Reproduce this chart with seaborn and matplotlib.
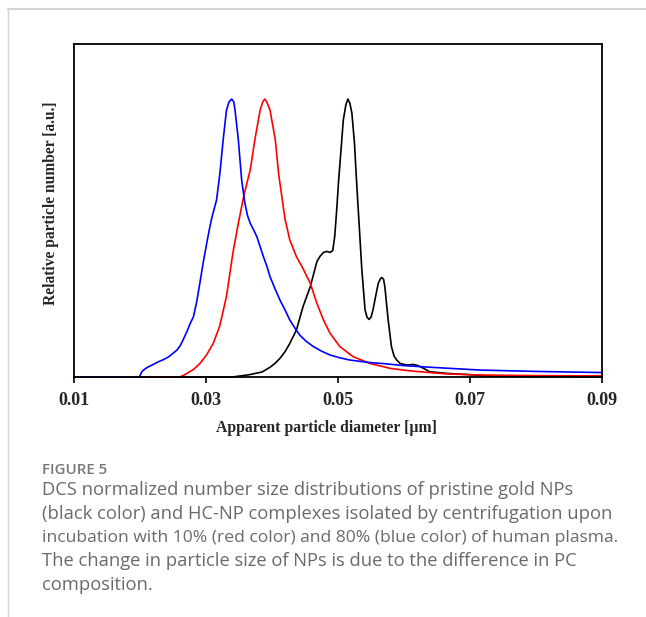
import numpy as np
import pandas as pd
import matplotlib
matplotlib.use("Agg")
import matplotlib.pyplot as plt
import seaborn as sns
from matplotlib.lines import Line2D

# ---------------- data ----------------
blue_x = [0.0100, 0.0199, 0.0203, 0.0208, 0.0213, 0.0220, 0.0228, 0.0235, 0.0243, 0.0250,
          0.0256, 0.0261, 0.0266, 0.0271, 0.0276, 0.0281, 0.0286, 0.0291, 0.0296, 0.0301,
          0.0305, 0.0309, 0.0313, 0.0316, 0.0321, 0.0326, 0.0331, 0.0335, 0.0339, 0.0342,
          0.0344, 0.0349, 0.0354, 0.0359, 0.0363, 0.0367, 0.0372, 0.0377, 0.0382, 0.0387,
          0.0392, 0.0397, 0.0405, 0.0412, 0.0420, 0.0427, 0.0435, 0.0442, 0.0452, 0.0463,
          0.0475, 0.0488, 0.0503, 0.0518, 0.0548, 0.0570, 0.0600, 0.0640, 0.0715, 0.0800,
          0.0900]
blue_y = [0.000, 0.000, 0.020, 0.030, 0.037, 0.045, 0.055, 0.062, 0.072, 0.085,
          0.097, 0.113, 0.137, 0.163, 0.192, 0.217, 0.272, 0.342, 0.415, 0.480,
          0.530, 0.575, 0.610, 0.637, 0.732, 0.853, 0.960, 0.990, 1.000, 0.990,
          0.960, 0.853, 0.709, 0.624, 0.580, 0.553, 0.530, 0.505, 0.469, 0.433,
          0.400, 0.361, 0.315, 0.277, 0.240, 0.205, 0.175, 0.151, 0.128, 0.109,
          0.093, 0.079, 0.069, 0.061, 0.052, 0.048, 0.041, 0.035, 0.025, 0.020,
          0.016]

red_x = [0.0100, 0.0260, 0.0266, 0.0271, 0.0281, 0.0291, 0.0301, 0.0311, 0.0321, 0.0331,
         0.0341, 0.0349, 0.0357, 0.0367, 0.0374, 0.0382, 0.0386, 0.0389, 0.0392, 0.0397,
         0.0405, 0.0410, 0.0417, 0.0420, 0.0427, 0.0437, 0.0447, 0.0458, 0.0468, 0.0478,
         0.0488, 0.0503, 0.0523, 0.0548, 0.0579, 0.0609, 0.0639, 0.0665, 0.0720, 0.0800,
         0.0900]
red_y = [0.000, 0.000, 0.006, 0.013, 0.027, 0.049, 0.080, 0.121, 0.185, 0.290,
         0.450, 0.553, 0.649, 0.745, 0.853, 0.960, 0.990, 1.000, 0.990, 0.960,
         0.853, 0.732, 0.613, 0.565, 0.493, 0.433, 0.390, 0.337, 0.265, 0.205,
         0.157, 0.109, 0.073, 0.049, 0.031, 0.022, 0.016, 0.011, 0.007, 0.005,
         0.004]

black_x = [0.0100, 0.0340, 0.0365, 0.0385, 0.0397, 0.0405, 0.0412, 0.0420, 0.0427, 0.0437,
           0.0447, 0.0458, 0.0468, 0.0473, 0.0478, 0.0483, 0.0488, 0.0492, 0.0495, 0.0498,
           0.0501, 0.0505, 0.0508, 0.0512, 0.0515, 0.0518, 0.0521, 0.0525, 0.0528, 0.0532,
           0.0536, 0.0541, 0.0544, 0.0547, 0.0550, 0.0553, 0.0557, 0.0561, 0.0564, 0.0566,
           0.0569, 0.0571, 0.0576, 0.0581, 0.0585, 0.0589, 0.0594, 0.0604, 0.0614, 0.0620,
           0.0624, 0.0632, 0.0639, 0.0665, 0.0695, 0.0725, 0.0800, 0.0900]
black_y = [0.000, 0.000, 0.008, 0.018, 0.035, 0.050, 0.067, 0.092, 0.121, 0.169,
           0.253, 0.325, 0.415, 0.435, 0.448, 0.452, 0.448, 0.455, 0.505, 0.600,
           0.709, 0.830, 0.924, 0.980, 1.000, 0.985, 0.950, 0.840, 0.709, 0.550,
           0.390, 0.241, 0.215, 0.207, 0.215, 0.241, 0.290, 0.337, 0.352, 0.358,
           0.352, 0.325, 0.205, 0.109, 0.075, 0.061, 0.049, 0.043, 0.045, 0.042,
           0.038, 0.028, 0.019, 0.013, 0.009, 0.004, 0.001, 0.000]

x_ticks = [0.01, 0.03, 0.05, 0.07, 0.09]
x_tick_labels = ["0.01", "0.03", "0.05", "0.07", "0.09"]
x_label = "Apparent particle diameter [\u00b5m]"
y_label = "Relative particle number [a.u.]"
fig_title = "FIGURE 5"
caption_lines = [
    "DCS normalized number size distributions of pristine gold NPs",
    "(black color) and HC-NP complexes isolated by centrifugation upon",
    "incubation with 10% (red color) and 80% (blue color) of human plasma.",
    "The change in particle size of NPs is due to the difference in PC",
    "composition.",
]
caption_sizes = [13.2, 13.2, 12.6, 13.2, 13.2]

# ---------------- figure ----------------
sns.set_style("white")
W, H = 646, 617
fig = plt.figure(figsize=(W / 100, H / 100), dpi=100)
ax = fig.add_axes([74 / W, 1 - 377 / H, 528 / W, 333 / H])

series = [(black_x, black_y, "black"), (red_x, red_y, "#ff0000"), (blue_x, blue_y, "#0000ff")]
for xs, ys, col in series:
    df = pd.DataFrame({"d": xs, "n": ys})
    sns.lineplot(data=df, x="d", y="n", color=col, linewidth=1.2, ax=ax,
                 estimator=None, sort=False, clip_on=False)

ax.set_xlim(0.01, 0.09)
ax.set_ylim(0.0, 1.198)
ax.set_yticks([])
ax.set_xticks(x_ticks)
ax.set_xticklabels(x_tick_labels, fontfamily="Liberation Serif", fontweight="bold", fontsize=13)
ax.tick_params(axis="x", direction="out", length=4, width=1.2, color="black", pad=7, bottom=True)
for s in ax.spines.values():
    s.set_visible(True)
    s.set_color("black")
    s.set_linewidth(1.3)

ax.set_xlabel("")
ax.set_ylabel("")
fig.text(326 / W, 1 - 428 / H, x_label, ha="center", va="center",
         fontfamily="Liberation Serif", fontweight="bold", fontsize=11.3)
fig.text(51 / W, 1 - 203 / H, y_label, ha="center", va="center", rotation=90,
         fontfamily="Liberation Serif", fontweight="bold", fontsize=11.2)

fig.text(42 / W, 1 - 470 / H, fig_title, ha="left", va="center",
         fontfamily="Open Sans", fontweight="semibold", fontsize=10.8, color="#777777")
for i, (line, fs) in enumerate(zip(caption_lines, caption_sizes)):
    fig.text(42 / W, 1 - (490 + i * 23.8) / H, line, ha="left", va="center",
             fontfamily="Open Sans", fontsize=fs, color="#6a6a6a")

# page frame lines
fig.add_artist(Line2D([8 / W, 1], [1 - 9 / H, 1 - 9 / H], color="#d4d4d4", linewidth=1.5))
fig.add_artist(Line2D([8 / W, 8 / W], [0, 1 - 9 / H], color="#d4d4d4", linewidth=1.0))

fig.savefig("out.png", dpi=100)
